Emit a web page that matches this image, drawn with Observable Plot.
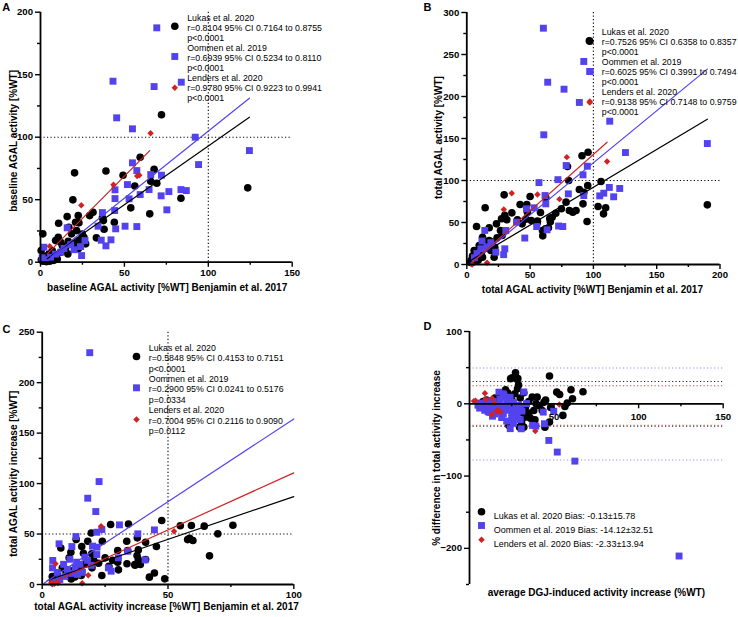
<!DOCTYPE html>
<html><head><meta charset="utf-8">
<script src="https://cdn.jsdelivr.net/npm/d3@7"></script>
<script src="https://cdn.jsdelivr.net/npm/@observablehq/plot@0.6"></script>
<style>
html,body{margin:0;padding:0;background:#fff;}
#fig{position:relative;width:738px;height:617px;overflow:hidden;background:#fff;}
#fig svg{position:absolute;overflow:visible;}
</style></head><body><div id="fig"></div>
<script>
// ---------- shared labels ----------
const seriesNames = ["Lukas et al. 2020", "Oommen et al. 2019", "Lenders et al. 2020"];

// ---------- Panel A: baseline activity ----------
const aLukas = [[72.1,117.9],[59.4,84],[20.3,71.5],[39,73],[49.2,69.6],[67.7,74.4],[65.7,64.8],[69.3,63.2],[56.2,61],[65.1,38.7],[53.8,43.5],[83.7,51.2],[123.5,59.5],[19.3,49.9],[31.3,40],[29.3,37.3],[22.5,37.3],[15.9,36.5],[10.8,31.2],[22.9,31.5],[20.9,32],[36.9,35.5],[37.5,33.3],[44,32],[37.9,26.4],[33.3,19.5],[16.9,28],[21.5,25.3],[1.4,22.7],[10.6,20],[9,17.3],[16.5,16.8],[22.9,17.3],[25.5,16],[25.9,20],[22.5,10.7],[16.3,6.7],[15,11.5],[13,13.3],[7,9.3],[0.4,9.3],[18.5,22.7],[24.9,22.5],[19.9,14.7],[26.9,14.7],[12,16],[5,6.5],[4,3.5],[6.5,2.5],[2.5,2],[1.5,0.8],[8,1.5],[3.5,0.5],[5.5,0.8],[7,4.5],[9,5.5],[10,2.5],[2.5,5],[12,8],[0.5,2]];
const aOommen = [[69.3,187.5],[43.2,144.8],[67.7,140.5],[83.9,144],[45.4,115.5],[54.8,106.7],[92.2,100],[124.5,89.3],[94.2,78.1],[54.8,79.5],[57.4,73.3],[65.7,70.1],[72.1,69.6],[51.8,62.1],[44.4,57.9],[44.4,50.9],[52.8,50.7],[59.4,54.1],[64.7,58.1],[71.9,53.1],[76.5,56.5],[83.7,58.1],[86.9,57.3],[75.3,41.9],[44.2,41.3],[36.9,39.7],[34.3,28.8],[44.8,26.7],[50.4,28.8],[57.4,28.5],[36.2,17.6],[42,17.9],[39,13.1],[15.9,27.5],[24.5,5.3],[2,12],[26.5,17.3],[23.9,12.5],[12,8],[3,2],[6,4],[9,6.5],[18,14],[20,10],[14,11],[1,3.5]];
const aLenders = [[65.6,103.1],[43.5,61.9],[57.6,68.9],[58.9,69.6],[24.3,45.5],[5.5,12.8]];
const aFitLukas = [[4,2.8],[124.5,116]];
const aFitOommen = [[6,4],[124.5,131.2]];
const aFitLenders = [[4,6.7],[65.1,89.2]];
const aR = ["0.8104","0.6939","0.9780"], aLo = ["0.7164","0.5234","0.9223"], aHi = ["0.8755","0.8110","0.9941"];
const aP = ["p<0.0001","p<0.0001","p<0.0001"];
const aXTicks = [0,50,100,150], aXMinor = [25,75,125];
const aYTicks = [0,50,100,150,200], aYMinor = [25,75,125,175];
const aRef = [100];

// ---------- Panel B: total activity ----------
const bLukas = [[96.8,266.3],[95.8,133.7],[91,129.4],[79.5,116.7],[80.5,100],[106,98.8],[95.5,94],[88.9,89.3],[92.4,86.1],[91.8,72.2],[95,51.2],[78.4,74.2],[81,64.3],[83.7,62.3],[86.3,64.3],[74.7,66.3],[70.3,61.1],[67.4,56.3],[66,50.8],[62.4,79.4],[58.2,61.9],[55.8,51.6],[62.1,42.5],[60,34.1],[65.5,54.8],[64.5,43.7],[59.8,40.5],[50,81],[47.4,71.4],[47.9,62.3],[46.6,54],[42.1,71.4],[40,53.2],[43.7,48.4],[51,52.4],[55.5,49.2],[35.6,61.5],[29.5,82.9],[31.6,53.2],[30,58.7],[27.4,54.4],[23.4,48.4],[14.5,67.5],[7.7,45.2],[17.7,43.7],[12.4,32.5],[14.5,26.6],[17.7,28.6],[9.8,22.6],[20.3,21.4],[22.1,20.6],[19,16.7],[5.8,16.7],[21.6,8.7],[12.4,8.7],[26.6,40.5],[27.9,34.5],[23.9,31.7],[20,26.6],[16,22.6],[103.7,69],[109.7,67.5],[108,60.3],[190,71],[3.5,5],[4.5,10],[6,7],[7.5,12],[9,5],[3,2.5],[5,3],[10,11],[8,9],[11.5,14]];
const bOommen = [[60.5,281.3],[92.4,241.7],[97.4,229.8],[63.9,217],[76.8,208.7],[88.9,192.9],[60.8,154.4],[112.9,170.6],[125.3,133.3],[78.5,117.8],[95.2,117],[91.8,106.7],[72,101],[57,97.5],[80.2,84.1],[92.4,82.1],[105,81.7],[108.2,84.9],[112.6,91.7],[120.8,90.5],[116,80.6],[62.4,72.2],[61.8,82.1],[53.2,67.5],[47.1,66.3],[39.2,50.4],[55.2,45.2],[63.4,41.3],[72.5,45.8],[75.8,45.2],[45.8,31.5],[30,18.7],[29.1,11.7],[14.2,40.5],[11.1,18.7],[22.9,14.7],[30.8,40.5],[8,13],[6,8],[16,21],[19,26],[12,28],[190,144]];
const bLenders = [[97.1,192.9],[79,127.8],[110.8,122.6],[55.8,83.3],[73.2,77.8],[35.5,84.9],[29.2,65.5],[16,2],[4.2,0]];
const bFitLukas = [[2,3.8],[190,173]];
const bFitOommen = [[3,0.9],[190,232.6]];
const bFitLenders = [[3,0.8],[110.8,145.6]];
const bR = ["0.7526","0.6025","0.9138"], bLo = ["0.6358","0.3991","0.7148"], bHi = ["0.8357","0.7494","0.9759"];
const bP = ["p<0.0001","p<0.0001","p<0.0001"];
const bXTicks = [0,50,100,150,200], bXMinor = [25,75,125,175];
const bYTicks = [0,50,100,150,200,250,300], bYMinor = [25,75,125,175,225,275];
const bRef = [100];

// ---------- Panel C: activity increase ----------
const cLukas = [[27.2,59.4],[34.3,60],[47.5,63.4],[54.9,58.2],[59.3,58.4],[64.4,57.8],[75.8,58.7],[69.8,50.2],[58.6,45.9],[59.9,43.6],[57.8,44.5],[66.5,28.4],[48.7,5.6],[45.4,37.6],[44.6,11.4],[42.6,7.3],[41.1,24.8],[39,19.8],[36.8,19.8],[19.5,51],[13.5,44.7],[7.4,36.2],[18.1,42.9],[23.9,42.8],[33.6,42.8],[37.8,46.2],[41.1,41.9],[15.7,37.6],[16.4,31],[11.4,32],[10.7,26.4],[19.7,30.4],[25,26.4],[30,33.7],[34,33.7],[38.2,34.3],[37.7,28.7],[38.2,24.8],[30,22.1],[33.7,20.5],[36.9,19.1],[30.3,14.5],[23.7,8.9],[22.4,21.1],[20.5,24],[19.8,16.5],[17.2,20.5],[15.2,14.5],[12,13.5],[8,16.5],[6,10.5],[4,8],[4.2,3.5],[6.5,5],[13,7.5],[15.5,9],[11.5,5.5],[9.5,12],[26.5,18],[28,24]];
const cOommen = [[18.9,229.7],[22.6,102],[18.1,85.5],[21.3,72.3],[30.7,59.1],[23.7,54.5],[21.7,51.8],[38,50.2],[44.6,54.1],[13.4,47.5],[6.7,40.3],[11.8,37.6],[20,38],[21.8,37],[4.2,23.8],[4.1,16.5],[26.3,16.5],[27.4,13.2],[30.3,26.4],[34,33],[40.9,24.4],[21.7,29.7],[17,27],[13.7,22.1],[13.1,17.2],[10,15],[12,11],[9,8],[15,20],[18,24],[16,12],[7,5],[5,3],[14,10],[19.5,19],[11,25],[8.5,20],[6,12]];
const cLenders = [[23.4,57.8],[52.4,52.8],[18.3,9.2],[15.9,1.3],[5.3,20.5],[4,0.3],[4.8,0.8],[3.6,2],[6.2,1.5]];
const cFitLukas = [[2,4],[100,87.1]];
const cFitOommen = [[0.7,1.3],[100,164]];
const cFitLenders = [[3.3,1.3],[100,110.6]];
const cR = ["0.5848","0.2900","0.7004"], cLo = ["0.4153","0.0241","0.2116"], cHi = ["0.7151","0.5176","0.9090"];
const cP = ["p<0.0001","p=0.0334","p=0.0112"];
const cXTicks = [0,50,100], cXMinor = [25,75];
const cYTicks = [0,50,100,150,200,250], cYMinor = [25,75,125,175,225];
const cRef = [50];

// ---------- Panel D: Bland-Altman ----------
const dLukas = [[27.2,43],[25.2,35.9],[28.6,35],[47.3,38.5],[28.4,20.7],[21.3,19.4],[22.7,14.7],[17.9,14.7],[26.8,13.8],[32.1,15.2],[37.1,9.2],[40,9.2],[51.6,16.1],[53.3,12.9],[60,19.4],[67.1,16.6],[60.9,6.9],[57.8,1],[56.4,-3.7],[55.2,-16.1],[39.4,0],[41.4,-2.8],[38,-9.2],[43,-9.2],[33.1,-4.6],[35.1,-12.9],[33.1,-18.4],[30.8,-25.3],[32.1,-32.3],[24.7,-23],[23.3,-30],[29.6,-32.3],[38.7,-22.1],[44.6,-32.3],[47.3,-25.3],[17.4,6.9],[13.4,2.3],[24.3,34.6],[28.2,33.6],[10,5],[8,3],[15,8],[20,10],[25,5],[30,8],[35,3],[45,5],[48,-5],[26,-8],[22,-5],[31,-12],[36,-20],[44,2],[29,26]];
const dOommen = [[46.9,-50.7],[51.9,-66.8],[62.3,-79.3],[123.9,-210.6],[32.1,16.4],[33.7,0.3],[43.6,-11.5],[49.8,-10.3],[24.1,-34.4],[30.6,-34.6],[37.3,-30],[39.2,-30.9],[44.3,-27.6],[28.2,-18],[13.6,-17.2],[19.9,13.8],[17.4,16.1],[20.3,12],[27.2,-9.2],[5,-2],[6,-6],[8,-4],[9,-9],[10,-1],[11,-7],[12,-12],[13,-4],[14,-9],[15,-1],[16,-6],[17,-11],[18,-3],[19,-8],[20,-14],[21,-4],[22,-9],[23,-1],[24,-6],[25,-12],[26,-3],[27,-14],[29,-2],[30,-6],[7,1],[10,4],[14,3],[18,6],[22,3],[26,2],[21,9],[24,9],[25,-20],[22,-24],[26,-27],[30,-22],[15,-14],[19,-19],[11,-11],[31,-10]];
const dLenders = [[2.6,3.7],[3.6,4.2],[9.1,14.7],[13.4,7.8],[14.8,0.9],[13.2,-14.7],[17.4,-9.2],[18.3,-11.5],[53.1,-0.9],[38.9,-37.8],[9.5,6],[16,-10]];
const dBias = [-0.13, -14.12, -2.33];
const dSD = [15.78, 32.51, 13.94];
const dXTicks = [50,100,150], dXMinor = [25,75,125];
const dYTicks = [100,0,-100,-200], dYMinor = [50,-50,-150,-250];

// ---------- styling ----------
const BLUE = "#5343ef", RED = "#d02222";
const COLORS = ["black", BLUE, RED];
const SYMBOLS = ["circle", "square", "diamond2"];
const SIZES = [3.8, 3.9, 2.9];
const FONT = "'Liberation Sans', Arial, Helvetica, sans-serif";
const fig = document.getElementById("fig");
const xy = {x: d => d[0], y: d => d[1]};

function seriesDots(sets) {
  return sets.map((s, i) => Plot.dot(s, {...xy, symbol: SYMBOLS[i], r: SIZES[i], fill: COLORS[i], stroke: "none"}));
}

function axisMarks(p) {
  const fy = p.h - p.mt - p.mb;
  const xDy = p.xAtZero ? -fy * (0 - p.yDomain[0]) / (p.yDomain[1] - p.yDomain[0]) : 0;
  const lab = {fontSize: 9.6, fontWeight: "bold", fill: "black", stroke: "black", strokeWidth: 1.4, label: null};
  return [
    Plot.ruleX([0], {stroke: "black", strokeWidth: 1.8}),
    Plot.ruleY([0], {stroke: "black", strokeWidth: 1.8}),
    Plot.axisX(p.xTicks, {...lab, anchor: "bottom", tickSize: 5, tickPadding: p.xPad ?? 2, dy: xDy}),
    Plot.axisX(p.xMinor, {...lab, anchor: "bottom", tickSize: 3, tickFormat: () => "", dy: xDy}),
    Plot.axisY(p.yTicks, {...lab, anchor: "left", tickSize: 5, tickPadding: 2.5}),
    Plot.axisY(p.yMinor, {...lab, anchor: "left", tickSize: 3, tickFormat: () => ""})
  ];
}

function panel(p) {
  const marks = [];
  for (const r of (p.refX || [])) marks.push(Plot.ruleX([r], {stroke: "black", strokeWidth: 1.1, strokeDasharray: "1.2,2.3"}));
  for (const r of (p.refY || [])) marks.push(Plot.ruleY([r], {stroke: "black", strokeWidth: 1.1, strokeDasharray: "1.2,2.3"}));
  for (const l of (p.limits || [])) marks.push(Plot.ruleY([l.v], {stroke: l.c, strokeWidth: 1.1, strokeDasharray: "1.2,2.3", strokeOpacity: l.o}));
  marks.push(...seriesDots(p.sets));
  (p.fits || []).forEach((f, i) => marks.push(Plot.line(f, {...xy, stroke: COLORS[i], strokeWidth: 1.2})));
  marks.push(...axisMarks(p));
  // legend
  marks.push(Plot.text([p.legend], {text: d => d, frameAnchor: "top-left", dx: p.legDx, dy: p.legDy, textAnchor: "start",
    lineAnchor: "top", lineHeight: p.legLH / p.legFS, fontSize: p.legFS, fill: "black"}));
  p.markDy.forEach((dy, i) => marks.push(Plot.dot([0], {frameAnchor: "top-left", dx: p.markDx, dy, symbol: SYMBOLS[i], r: SIZES[i], fill: COLORS[i]})));
  // axis titles
  marks.push(Plot.text([p.xTitle], {text: d => d, frameAnchor: "bottom", dx: p.xtDx, dy: p.xtDy, textAnchor: "middle", lineAnchor: "middle", fontSize: 10, fontWeight: "bold", fill: "black"}));
  marks.push(Plot.text([p.yTitle], {text: d => d, frameAnchor: "left", dx: p.ytDx, dy: p.ytDy, rotate: -90, textAnchor: "middle", lineAnchor: "middle", fontSize: 10, fontWeight: "bold", fill: "black"}));
  // panel letter
  marks.push(Plot.text([p.letter], {text: d => d, frameAnchor: "top-left", dx: p.letDx, dy: p.letDy, textAnchor: "start", lineAnchor: "top", fontSize: 11, fontWeight: "bold", fill: "black"}));
  const svg = Plot.plot({
    width: p.w, height: p.h,
    marginLeft: p.ml, marginRight: p.mr, marginTop: p.mt, marginBottom: p.mb,
    x: {type: "linear", domain: p.xDomain},
    y: {type: "linear", domain: p.yDomain},
    style: {background: "transparent", overflow: "visible", color: "black", fontFamily: FONT, maxWidth: "none"},
    marks
  });
  svg.style.left = p.left + "px";
  svg.style.top = p.top + "px";
  fig.appendChild(svg);
}

function corrLegend(r, lo, hi, pv) {
  return seriesNames.flatMap((n, i) => [n, `r=${r[i]} 95% CI ${lo[i]} to ${hi[i]}`, pv[i]]).join("\n");
}

panel({
  letter: "A", left: 0, top: 0, w: 369, h: 305, ml: 40, mr: 77.3, mt: 11.7, mb: 43.3,
  xDomain: [0, 150], yDomain: [0, 200],
  xTicks: aXTicks, xMinor: aXMinor, yTicks: aYTicks, yMinor: aYMinor,
  refX: aRef, refY: aRef,
  sets: [aLukas, aOommen, aLenders], fits: [aFitLukas, aFitOommen, aFitLenders],
  legend: corrLegend(aR, aLo, aHi, aP), legFS: 8.8, legDx: 146.7, legDy: 1.5, legLH: 10, markDx: 134.3, markDy: [14, 44.3, 75.6],
  xTitle: "baseline AGAL activity [%WT] Benjamin et al. 2017", xtDx: 0.8, xtDy: 26,
  yTitle: "baseline AGAL activity [%WT]", ytDx: -26.7, ytDy: 3.6,
  letDx: -38.3, letDy: -9
});

panel({
  letter: "B", left: 369, top: 0, w: 369, h: 305, ml: 97.3, mr: 18.5, mt: 12, mb: 41,
  xDomain: [0, 200], yDomain: [0, 300],
  xTicks: bXTicks, xMinor: bXMinor, yTicks: bYTicks, yMinor: bYMinor,
  refX: bRef, refY: bRef,
  sets: [bLukas, bOommen, bLenders], fits: [bFitLukas, bFitOommen, bFitLenders],
  legend: corrLegend(bR, bLo, bHi, bP), legFS: 8.8, legDx: 135, legDy: 14.9, legLH: 10.1, markDx: 123, markDy: [28.7, 59, 89],
  xTitle: "total AGAL activity [%WT] Benjamin et al. 2017", xtDx: -1, xtDy: 25,
  yTitle: "total AGAL activity [%WT]", ytDx: -28, ytDy: -1,
  letDx: -43.3, letDy: -9.3
});

panel({
  letter: "C", left: 0, top: 310, w: 369, h: 307, ml: 41.7, mr: 75.7, mt: 21.7, mb: 33,
  xDomain: [0, 100], yDomain: [0, 250],
  xTicks: cXTicks, xMinor: cXMinor, yTicks: cYTicks, yMinor: cYMinor,
  refX: cRef, refY: cRef,
  sets: [cLukas, cOommen, cLenders], fits: [cFitLukas, cFitOommen, cFitLenders],
  legend: corrLegend(cR, cLo, cHi, cP), legFS: 8.8, legDx: 106.6, legDy: 11.2, legLH: 10.4, markDx: 94.3, markDy: [24.3, 55.6, 87.3],
  xTitle: "total AGAL activity increase [%WT] Benjamin et al. 2017", xtDx: -1.5, xtDy: 22,
  yTitle: "total AGAL activity increase [%WT]", ytDx: -28.4, ytDy: 15.4,
  letDx: -39.7, letDy: -6.7
});

const dLimits = dBias.flatMap((b, i) => [
  {v: b + 1.96 * dSD[i], c: COLORS[i], o: i === 1 ? 0.6 : 0.85},
  {v: b - 1.96 * dSD[i], c: COLORS[i], o: i === 1 ? 0.6 : 0.85}
]);
const dLegend = seriesNames.map((n, i) => `${n} Bias: ${dBias[i].toFixed(2)}\u00b1${dSD[i].toFixed(2)}`).join("\n");

panel({
  letter: "D", left: 369, top: 310, w: 369, h: 307, ml: 100, mr: 15.3, mt: 21, mb: 33,
  xDomain: [0, 150], yDomain: [-250, 100], xAtZero: true, xPad: 4,
  xTicks: dXTicks, xMinor: dXMinor, yTicks: dYTicks, yMinor: dYMinor,
  limits: dLimits,
  sets: [dLukas, dOommen, dLenders],
  legend: dLegend, legFS: 9, legDx: 24.3, legDy: 177.1, legLH: 14, markDx: 12, markDy: [180.3, 194, 208.3],
  xTitle: "average DGJ-induced activity increase (%WT)", xtDx: 0, xtDy: 8.7,
  yTitle: "% difference in total activity increase", ytDx: -32.3, ytDy: 0,
  letDx: -46, letDy: -9
});
</script></body></html>
